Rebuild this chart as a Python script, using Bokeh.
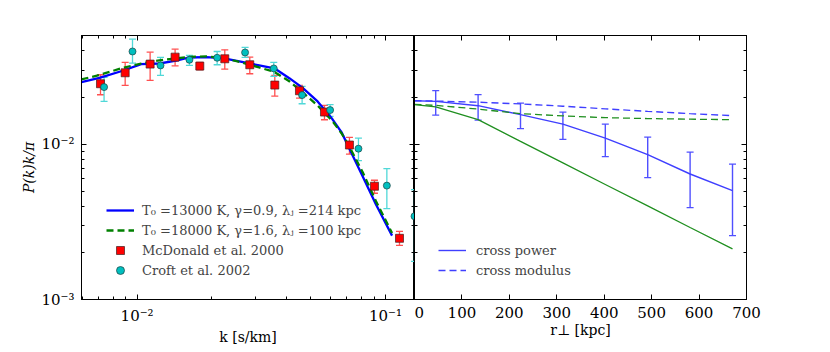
from bokeh.plotting import figure
from bokeh.models import (Range1d, LogAxis, LinearAxis, FixedTicker,
                          CustomJSTickFormatter, Whisker, TeeHead, ColumnDataSource,
                          Legend, LegendItem)
from bokeh.layouts import row
from bokeh.embed import file_html
from bokeh.resources import INLINE

# ---------------- data ----------------
# left panel: flux power spectrum P(k)k/pi
model_k = [0.00597, 0.00705, 0.00875, 0.01038, 0.01229, 0.01436, 0.01624, 0.0190, 0.0221,
           0.0258, 0.0310, 0.0357, 0.0410, 0.0464, 0.0533, 0.0612, 0.0665, 0.0715, 0.0810,
           0.0916, 0.1063]
model_T13000 = [0.0252, 0.0268, 0.0298, 0.0329, 0.0332, 0.0346, 0.0363, 0.0365, 0.0359,
                0.0342, 0.0323, 0.0309, 0.0267, 0.0231, 0.0189, 0.0145, 0.0120, 0.0094,
                0.0062, 0.0041, 0.00258]
model_T18000 = [0.0262, 0.0280, 0.0311, 0.0332, 0.0348, 0.0358, 0.0366, 0.0369, 0.0361,
                0.0340, 0.0313, 0.0293, 0.0255, 0.0216, 0.0178, 0.0141, 0.0118, 0.0097,
                0.0066, 0.0043, 0.00268]

mcd_k = [0.00712, 0.00895, 0.01128, 0.01422, 0.01788, 0.02254, 0.02842, 0.03584, 0.04505,
         0.05681, 0.07161, 0.0903, 0.1139]
mcd_p = [0.02458, 0.02893, 0.0329, 0.03649, 0.03194, 0.0356, 0.03258, 0.0241, 0.02215,
         0.01615, 0.0099, 0.00537, 0.00248]
mcd_hi = [0.02809, 0.03372, 0.03929, 0.04108, 0.03372, 0.04068, 0.03649, 0.02782, 0.02398,
          0.01783, 0.01109, 0.00587, 0.00275]
mcd_lo = [0.02088, 0.02398, 0.02582, 0.03209, 0.03025, 0.03055, 0.02851, 0.02047, 0.01988,
          0.01441, 0.00866, 0.00484, 0.00223]

croft_k = [0.00736, 0.00958, 0.01242, 0.01624, 0.0210, 0.02721, 0.0355, 0.04617, 0.05985,
           0.07785, 0.1013, 0.1309]
croft_p = [0.02339, 0.03968, 0.03226, 0.03508, 0.03614, 0.0391, 0.03085, 0.02078, 0.01663,
           0.00938, 0.00542, 0.00344]
croft_hi = [0.0270, 0.04765, 0.03632, 0.03741, 0.03968, 0.04212, 0.03372, 0.02362, 0.01801,
            0.01098, 0.00697, 0.00511]
croft_lo = [0.01891, 0.03339, 0.02782, 0.03226, 0.03258, 0.03632, 0.02741, 0.01827, 0.01514,
            0.00785, 0.00385, 0.00176]

# right panel: cross power vs transverse separation
r_line = [0, 44.7, 134.1, 223.5, 312.9, 402.3, 491.7, 581.1, 670.5]
r_err = [44.7, 134.1, 223.5, 312.9, 402.3, 491.7, 581.1, 670.5]
power_T13000 = [0.01912, 0.01892, 0.01775, 0.01553, 0.01351, 0.01098, 0.00858, 0.00644, 0.00503]
power_err_hi = [0.02217, 0.02089, 0.01845, 0.01614, 0.01351, 0.01114, 0.00892, 0.00746]
power_err_lo = [0.01544, 0.01434, 0.01262, 0.01077, 0.00833, 0.0061, 0.00391, 0.00258]
modulus_T13000 = [0.01912, 0.0190, 0.01869, 0.01822, 0.01762, 0.01693, 0.01632, 0.01577, 0.01531]
power_T18000 = [0.01801, 0.01744, 0.01442, 0.01045, 0.0076, 0.00551, 0.00401, 0.00291, 0.00212]
modulus_T18000 = [0.0181, 0.01783, 0.01688, 0.01577, 0.01526, 0.01486, 0.01466, 0.01453, 0.01442]

x_major = [0.01, 0.1]
y_major = [0.001, 0.01, 0.1]
x_minor = [m * d for d in (0.001, 0.01, 0.1) for m in range(2, 10)]
y_minor = [m * d for d in (0.001, 0.01) for m in range(2, 10)]
r_ticks = [0, 100, 200, 300, 400, 500, 600, 700]

FONT = "DejaVu Serif"
SUP_CODE = """
const e = Math.round(Math.log10(tick));
const s = {'-':'\\u207b','0':'\\u2070','1':'\\u00b9','2':'\\u00b2','3':'\\u00b3','4':'\\u2074',
           '5':'\\u2075','6':'\\u2076','7':'\\u2077','8':'\\u2078','9':'\\u2079'};
return '10' + String(e).split('').map(c => s[c]).join('');
"""


def style_axis(ax, labels=True, minor=True):
    ax.major_tick_in = 5
    ax.major_tick_out = 0
    ax.minor_tick_in = 3 if minor else 0
    ax.minor_tick_out = 0
    ax.axis_line_color = "black"
    ax.major_tick_line_color = "black"
    ax.minor_tick_line_color = "black"
    ax.major_label_text_font = FONT
    ax.major_label_text_color = "black"
    if labels:
        ax.major_label_text_font_size = "15px"
        ax.major_label_standoff = 7
    else:
        ax.major_label_text_font_size = "1px"
        ax.major_label_text_alpha = 0
        ax.major_label_standoff = 0
    ax.axis_label_text_font = FONT
    ax.axis_label_text_font_size = "14px"
    ax.axis_label_text_font_style = "normal"
    ax.axis_label_text_color = "black"


def new_fig(**kw):
    p = figure(height=349, output_backend="svg", toolbar_location=None,
               min_border_top=35, min_border_bottom=50, **kw)
    p.grid.grid_line_color = None
    p.outline_line_color = "black"
    p.outline_line_alpha = 1
    p.background_fill_color = "white"
    p.border_fill_color = "white"
    return p


# ---------------- left panel ----------------
p1 = new_fig(width=414, x_axis_type="log", y_axis_type="log",
             x_range=Range1d(0.00597, 0.1309), y_range=Range1d(0.001, 0.0503),
             min_border_left=81, min_border_right=0)

p1.xaxis.ticker = FixedTicker(ticks=x_major, minor_ticks=x_minor)
p1.yaxis.ticker = FixedTicker(ticks=y_major, minor_ticks=y_minor)
p1.xaxis.formatter = CustomJSTickFormatter(code=SUP_CODE)
p1.yaxis.formatter = CustomJSTickFormatter(code=SUP_CODE)
style_axis(p1.xaxis[0])
style_axis(p1.yaxis[0])
p1.xaxis.axis_label = "k [s/km]"
p1.xaxis.axis_label_standoff = 1
p1.yaxis.axis_label = "P(k)k/π"
p1.yaxis.axis_label_text_font_style = "italic"
p1.yaxis.axis_label_standoff = 1

top1 = LogAxis(ticker=FixedTicker(ticks=x_major, minor_ticks=x_minor))
style_axis(top1, labels=False)
p1.add_layout(top1, "above")
right1 = LogAxis(ticker=FixedTicker(ticks=y_major, minor_ticks=y_minor))
style_axis(right1, labels=False)
p1.add_layout(right1, "right")

l_a = p1.line(model_k, model_T13000, line_color="#0000ff", line_width=2.3)
l_b = p1.line(model_k, model_T18000, line_color="#008000", line_width=2.3, line_dash="7 4")

src_m = ColumnDataSource(dict(k=mcd_k, p=mcd_p, hi=mcd_hi, lo=mcd_lo))
src_c = ColumnDataSource(dict(k=croft_k, p=croft_p, hi=croft_hi, lo=croft_lo))

red_err = "#ff5050"
cyan_err = "#50d8d8"
p1.add_layout(Whisker(source=src_m, base="k", upper="hi", lower="lo", dimension="height",
                      line_color=red_err, line_width=1.3,
                      upper_head=TeeHead(size=7, line_color=red_err, line_width=1.3),
                      lower_head=TeeHead(size=7, line_color=red_err, line_width=1.3)))
s_m = p1.scatter("k", "p", source=src_m, marker="square", size=8, fill_color="#ff0000",
                 line_color="#402020", line_width=0.7)
p1.add_layout(Whisker(source=src_c, base="k", upper="hi", lower="lo", dimension="height",
                      line_color=cyan_err, line_width=1.3,
                      upper_head=TeeHead(size=7, line_color=cyan_err, line_width=1.3),
                      lower_head=TeeHead(size=7, line_color=cyan_err, line_width=1.3)))
s_c = p1.scatter("k", "p", source=src_c, marker="circle", size=7, fill_color="#00bfbf",
                 line_color="#204040", line_width=0.7)

leg1 = Legend(items=[
    LegendItem(label="T₀ =13000 K, γ=0.9, λⱼ =214 kpc", renderers=[l_a]),
    LegendItem(label="T₀ =18000 K, γ=1.6, λⱼ =100 kpc", renderers=[l_b]),
    LegendItem(label="McDonald et al. 2000", renderers=[s_m]),
    LegendItem(label="Croft et al. 2002", renderers=[s_c]),
], location=(25, 19), border_line_color=None, background_fill_alpha=0,
    label_text_font=FONT, label_text_font_size="13px", glyph_width=28, glyph_height=20,
    label_height=20, spacing=0, padding=10, margin=0, label_standoff=8)
p1.add_layout(leg1)

# ---------------- right panel ----------------
p2 = new_fig(width=377, y_axis_type="log",
             x_range=Range1d(0, 700), y_range=Range1d(0.001, 0.0503),
             min_border_left=0, min_border_right=45)

p2.xaxis.ticker = FixedTicker(ticks=r_ticks)
style_axis(p2.xaxis[0], minor=False)
p2.xaxis.axis_label = "r⊥ [kpc]"
p2.xaxis.axis_label_standoff = 1
p2.yaxis.ticker = FixedTicker(ticks=y_major, minor_ticks=y_minor)
style_axis(p2.yaxis[0], labels=False)

top2 = LinearAxis(ticker=FixedTicker(ticks=r_ticks))
style_axis(top2, labels=False, minor=False)
p2.add_layout(top2, "above")
right2 = LogAxis(ticker=FixedTicker(ticks=y_major, minor_ticks=y_minor))
style_axis(right2, labels=False)
p2.add_layout(right2, "right")

blue2 = "#3f3fff"
green2 = "#1f8f1f"
g_pa = p2.line(r_line, power_T13000, line_color=blue2, line_width=1.4)
g_ma = p2.line(r_line, modulus_T13000, line_color=blue2, line_width=1.4, line_dash="7 4")
p2.line(r_line, power_T18000, line_color=green2, line_width=1.3)
p2.line(r_line, modulus_T18000, line_color=green2, line_width=1.3, line_dash="7 4")

src_e = ColumnDataSource(dict(r=r_err, hi=power_err_hi, lo=power_err_lo))
err2 = "#5050ff"
p2.add_layout(Whisker(source=src_e, base="r", upper="hi", lower="lo", dimension="height",
                      line_color=err2, line_width=1.4,
                      upper_head=TeeHead(size=7, line_color=err2, line_width=1.3),
                      lower_head=TeeHead(size=7, line_color=err2, line_width=1.3)))

leg2 = Legend(items=[
    LegendItem(label="cross power", renderers=[g_pa]),
    LegendItem(label="cross modulus", renderers=[g_ma]),
], location=(24, 19), border_line_color=None, background_fill_alpha=0,
    label_text_font=FONT, label_text_font_size="13px", glyph_width=28, glyph_height=20,
    label_height=20, spacing=0, padding=10, margin=0, label_standoff=10)
p2.add_layout(leg2)

layout = row(p1, p2)
open("out.html", "w").write(file_html(layout, INLINE))
